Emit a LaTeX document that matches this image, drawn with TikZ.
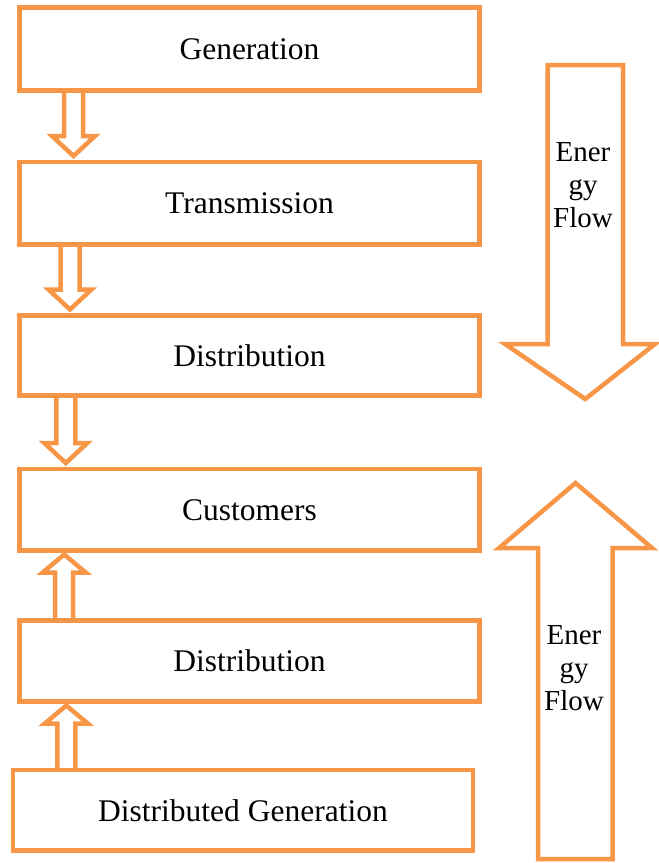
\documentclass[tikz,border=0pt]{standalone}
\usepackage{fontspec}
\setmainfont{Liberation Serif}
\usetikzlibrary{calc}
\definecolor{acc}{HTML}{F79646}
% small block arrows between boxes
\newcommand\blkdown[3]{% from, to, centre x (px)
  \draw[blk] let \p1=(#1.south), \p2=(#2.north) in
    ({#3pt-9.5pt},\y1) -- ({#3pt-9.5pt},\y2+26pt) -- ({#3pt-21.5pt},\y2+26pt)
    -- (#3pt,\y2+6pt) -- ({#3pt+21.5pt},\y2+26pt) -- ({#3pt+9.5pt},\y2+26pt)
    -- ({#3pt+9.5pt},\y1);}
\newcommand\blkup[3]{% from (lower), to (upper), centre x (px)
  \draw[blk] let \p1=(#1.north), \p2=(#2.south) in
    ({#3pt-9pt},\y1) -- ({#3pt-9pt},\y2-22pt) -- ({#3pt-21.5pt},\y2-22pt)
    -- (#3pt,\y2-4pt) -- ({#3pt+21.5pt},\y2-22pt) -- ({#3pt+9pt},\y2-22pt)
    -- ({#3pt+9pt},\y1);}
\begin{document}
\begin{tikzpicture}[x=1pt,y=-1pt,
  box/.style={draw=acc,line width=4.5pt,minimum width=460pt,inner sep=0pt,outer sep=0pt,
              font=\fontsize{31.5}{36}\selectfont},
  blk/.style={draw=acc,line width=4.5pt,line join=miter},
  bigarrow/.style={draw=acc,fill=white,line width=4.5pt,line join=miter},
  flow/.style={align=center,inner sep=0pt,font=\fontsize{29}{33}\selectfont}]
\useasboundingbox (0,0) rectangle (659,863);

% boxes
\node[box,minimum height=83pt]   (gen)   at (249.5,49)     {Generation};
\node[box,minimum height=82.5pt] (trans) at (249.5,203.25) {Transmission};
\node[box,minimum height=80pt]   (dist1) at (249.5,355.5)  {Distribution};
\node[box,minimum height=81.5pt] (cust)  at (249.5,509.75) {Customers};
\node[box,minimum height=81pt]   (dist2) at (249.5,661)    {Distribution};
\node[box,minimum height=80.5pt] (dg)    at (243,810.25)   {Distributed Generation};

% small block arrows
\blkdown{gen}{trans}{73.5}
\blkdown{trans}{dist1}{70}
\blkdown{dist1}{cust}{65.8}
\blkup{dist2}{cust}{64.2}
\blkup{dg}{dist2}{66.3}

% big arrows
\draw[bigarrow] (547.5,65) -- (623,65) -- (623,344) -- (655,344) -- (585.25,399)
  -- (505,344) -- (547.5,344) -- cycle;
\node[flow] (flowdown) at (583,185.4) {Ener\\gy\\Flow};

\draw[bigarrow] (538,859) -- (612.5,859) -- (612.5,548) -- (652,548) -- (575.5,483)
  -- (499,548) -- (538,548) -- cycle;
\node[flow] (flowup) at (574,668.3) {Ener\\gy\\Flow};
\end{tikzpicture}
\end{document}
